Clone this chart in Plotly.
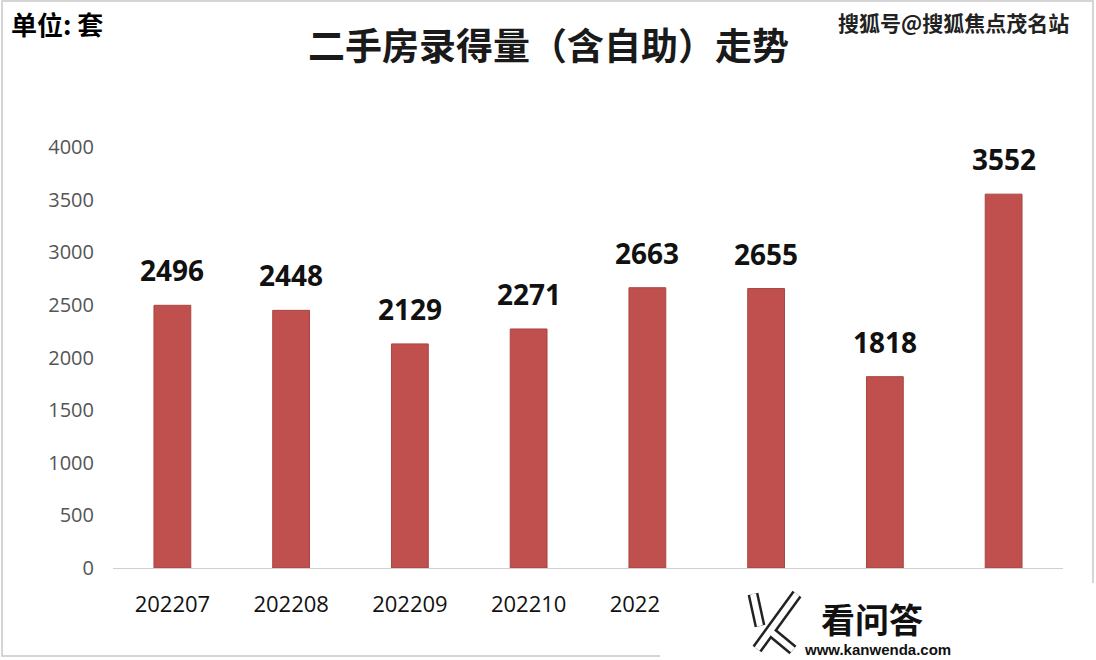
import plotly.graph_objects as go

months = ["202207", "202208", "202209", "202210", "202211", "202212", "202301", "202302"]
volumes = [2496, 2448, 2129, 2271, 2663, 2655, 1818, 3552]
y_ticks = [0, 500, 1000, 1500, 2000, 2500, 3000, 3500, 4000]

W, H = 1096, 660
ML, MR, MT, MB = 113, 33, 147, 92
PW, PH = W - ML - MR, H - MT - MB


def px(x, y):
    return (x - ML) / PW, (H - MB - y) / PH


fig = go.Figure(go.Bar(
    x=months, y=volumes,
    marker=dict(color="#C0504D", line=dict(color="#A94542", width=1)),
    width=0.31,
))

for i, v in enumerate(volumes):
    fig.add_annotation(x=i, y=v, xref="x", yref="y", text=f"<b>{v}</b>",
                       showarrow=False, yanchor="middle", yshift=35,
                       font=dict(family="Open Sans", size=28, color="#111111"))

shapes = []
# outer frame
x0, y0 = px(2, 1)
x1, y1 = px(1093, 656)
shapes.append(dict(type="rect", xref="paper", yref="paper", x0=x0, y0=y1, x1=x1, y1=y0,
                   line=dict(color="#C8C8C8", width=1.5), layer="below"))
# watermark box
x0, y0 = px(660, 583)
x1, y1 = px(1096, 660)
shapes.append(dict(type="rect", xref="paper", yref="paper", x0=x0, y0=y1, x1=x1, y1=y0,
                   fillcolor="white", line=dict(width=0), layer="above"))


def seg_path(pts):
    s = ""
    for i, (a, b) in enumerate(pts):
        qx, qy = px(a, b)
        s += ("M" if i == 0 else "L") + f"{qx:.5f},{qy:.5f} "
    return s


k_strokes = [
    [(753, 594), (760, 626)],
    [(797, 594), (757, 649)],
    [(770, 631), (793, 650)],
]
for st in k_strokes:
    shapes.append(dict(type="path", xref="paper", yref="paper", path=seg_path(st),
                       line=dict(color="#222222", width=11), layer="above"))
for st in k_strokes:
    shapes.append(dict(type="path", xref="paper", yref="paper", path=seg_path(st),
                       line=dict(color="white", width=6), layer="above"))

fig.update_layout(shapes=shapes)


def ann(text, x, y, size, color="#000000", family="Noto Sans CJK SC", xanchor="center"):
    ax, ay = px(x, y)
    fig.add_annotation(x=ax, y=ay, xref="paper", yref="paper", text=text, showarrow=False,
                       xanchor=xanchor, yanchor="middle",
                       font=dict(family=family, size=size, color=color))


ann("<b>单位: 套</b>", 9, 24, 26, xanchor="left")
ann("<b>二手房录得量（含自助）走势</b>", 548, 44, 37, color="#1a1a1a")
ann("<b>搜狐号@搜狐焦点茂名站</b>", 953, 22, 21, color="#222222")
ann("<b>看问答</b>", 872, 618, 34, color="#111111")
ann("<b>www.kanwenda.com</b>", 877, 649, 15, color="#111111", family="Liberation Sans")

fig.update_layout(
    width=W, height=H,
    margin=dict(l=ML, r=MR, t=MT, b=MB),
    paper_bgcolor="white", plot_bgcolor="white",
    showlegend=False,
    bargap=0.69,
    xaxis=dict(
        type="category", range=[-0.5, len(months) - 0.5],
        showgrid=False, showline=True, linecolor="#D0D0D0", linewidth=1,
        ticks="", ticklabelstandoff=17,
        tickfont=dict(family="Open Sans", size=22, color="#111111"),
    ),
    yaxis=dict(
        range=[0, 4000], tickvals=y_ticks, showgrid=False, zeroline=False,
        showline=False, ticks="", ticklabelstandoff=18,
        tickfont=dict(family="Open Sans", size=20, color="#555555"),
    ),
)

fig.write_html("out.html")
